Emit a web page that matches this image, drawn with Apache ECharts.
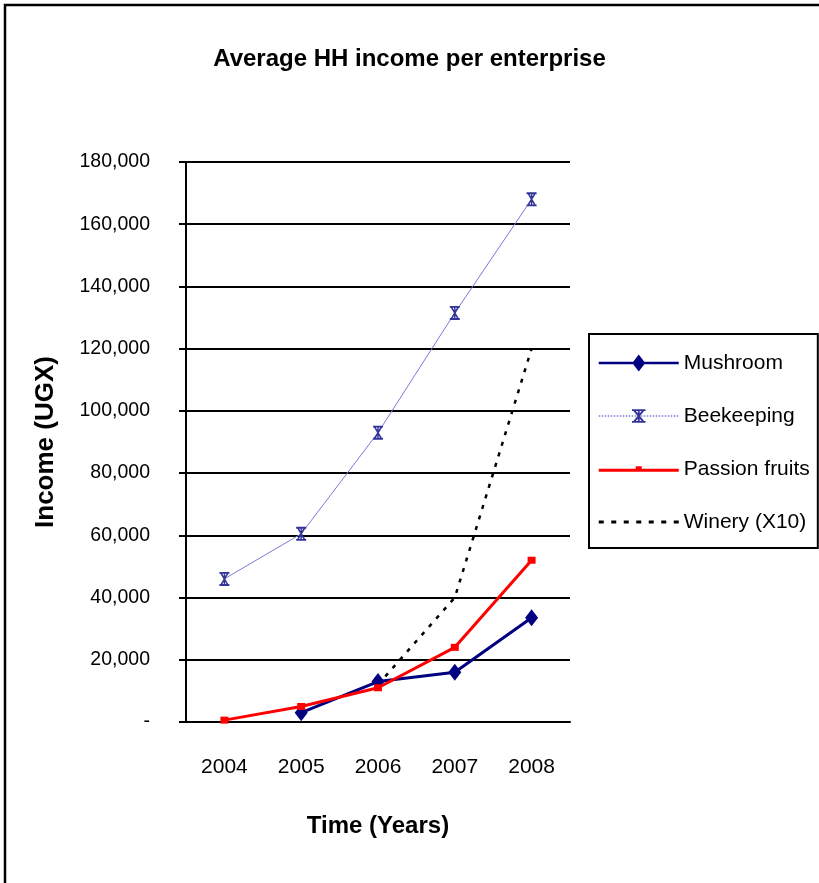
<!DOCTYPE html>
<html>
<head>
<meta charset="utf-8">
<script src="https://cdn.jsdelivr.net/npm/echarts@6/dist/echarts.min.js"></script>
<style>
  html, body { margin: 0; padding: 0; background: #fff; }
  #chart { width: 819px; height: 883px; }
</style>
</head>
<body>
<div id="chart"></div>
<script>
// data
var years = ['2004', '2005', '2006', '2007', '2008'];
var mushroom = [null, 3000, 13000, 16000, 33500];
var beekeeping = [46000, 60500, 93000, 131500, 168000];
var passionFruits = [600, 5000, 11000, 24000, 52000];
var winery = [null, null, 12000, 40000, 120000]; // shown x10

var FONT = "'Liberation Sans', Arial, sans-serif";

// little "x with bars" marker like the excel one
var beeMark = 'path://M0,0H10V1.6H0Z M0,10.4H10V12H0Z M0,0L1.8,0L10,12L8.2,12Z M8.2,0L10,0L1.8,12L0,12Z M4.3,0H5.7V12H4.3Z';

// legend icons drawn as line + marker (80 x 17 box)
var iconMushroom = 'path://M0,7.25H80V9.75H0Z M40,0L46.5,8.5L40,17L33.5,8.5Z';
var iconPassion = 'path://M0,7H80V10H0Z M37,4.5H43V8H37Z';
var iconWinery = 'path://M0,0H5V3H0Z M12.5,0H17.5V3H12.5Z M25,0H30V3H25Z M37.5,0H42.5V3H37.5Z M50,0H55V3H50Z M62.5,0H67.5V3H62.5Z M75,0H80V3H75Z';

var chart = echarts.init(document.getElementById('chart'));

var option = {
    backgroundColor: '#fff',
    animation: false,
    title: {
        text: 'Average HH income per enterprise',
        left: 'center',
        top: 42,
        textStyle: { fontFamily: FONT, fontSize: 24, fontWeight: 'bold', color: '#000' }
    },
    graphic: [{
        type: 'rect',
        shape: { x: 5, y: 5, width: 840, height: 900 },
        style: { fill: 'none', stroke: '#000', lineWidth: 2.5 },
        silent: true
    }],
    legend: {
        orient: 'vertical',
        left: 589,
        top: 334,
        padding: [16, 8, 13, 9],
        itemWidth: 80,
        itemHeight: 17,
        itemGap: 27,
        symbolKeepAspect: true,
        borderColor: '#000',
        borderWidth: 2,
        textStyle: { fontFamily: FONT, fontSize: 21, lineHeight: 26, color: '#000' },
        data: [
            { name: 'Mushroom', icon: iconMushroom },
            { name: 'Beekeeping', lineStyle: { type: 'dotted', width: 1.5 } },
            { name: 'Passion fruits', icon: iconPassion },
            { name: 'Winery (X10)', icon: iconWinery }
        ]
    },
    grid: { left: 186, right: 249, top: 162, bottom: 161, containLabel: false },
    xAxis: {
        type: 'category',
        data: years,
        boundaryGap: true,
        name: 'Time (Years)',
        nameLocation: 'middle',
        nameGap: 92,
        nameTextStyle: { fontFamily: FONT, fontSize: 24, fontWeight: 'bold', color: '#000' },
        axisLine: { lineStyle: { color: '#000', width: 2 } },
        axisTick: { length: 8, lineStyle: { color: '#000', width: 2 } },
        axisLabel: { margin: 35, fontFamily: FONT, fontSize: 21, color: '#000' },
        splitLine: { show: false }
    },
    yAxis: {
        type: 'value',
        min: 0,
        max: 180000,
        interval: 20000,
        name: 'Income (UGX)',
        nameLocation: 'middle',
        nameGap: 127,
        nameTextStyle: { fontFamily: FONT, fontSize: 26, fontWeight: 'bold', color: '#000' },
        axisLine: { show: true, lineStyle: { color: '#000', width: 2 } },
        axisTick: { show: true, length: 7, lineStyle: { color: '#000', width: 2 } },
        axisLabel: {
            margin: 36,
            fontFamily: FONT,
            fontSize: 19.5,
            color: '#000',
            formatter: function (v) {
                return v === 0 ? '-' : v.toLocaleString('en-US');
            }
        },
        splitLine: { lineStyle: { color: '#000', width: 2 } }
    },
    series: [{
        name: 'Mushroom',
        type: 'line',
        data: mushroom,
        symbol: 'diamond',
        symbolSize: [13, 17],
        color: '#000080',
        lineStyle: { color: '#000080', width: 3 },
        itemStyle: { color: '#000080' },
        z: 4
    }, {
        name: 'Beekeeping',
        type: 'line',
        data: beekeeping,
        symbol: beeMark,
        symbolSize: [10, 14],
        color: '#333399',
        lineStyle: { color: '#7a7ad6', width: 1 },
        itemStyle: { color: '#333399' },
        z: 3
    }, {
        name: 'Winery (X10)',
        type: 'line',
        data: winery,
        symbol: 'none',
        color: '#000',
        lineStyle: { color: '#000', width: 2.5, type: [4, 7] },
        itemStyle: { color: '#000' },
        z: 2
    }, {
        name: 'Passion fruits',
        type: 'line',
        data: passionFruits,
        symbol: 'rect',
        symbolSize: [8, 7],
        color: '#ff0000',
        lineStyle: { color: '#ff0000', width: 3 },
        itemStyle: { color: '#ff0000' },
        z: 5
    }]
};

chart.setOption(option);
</script>
</body>
</html>
